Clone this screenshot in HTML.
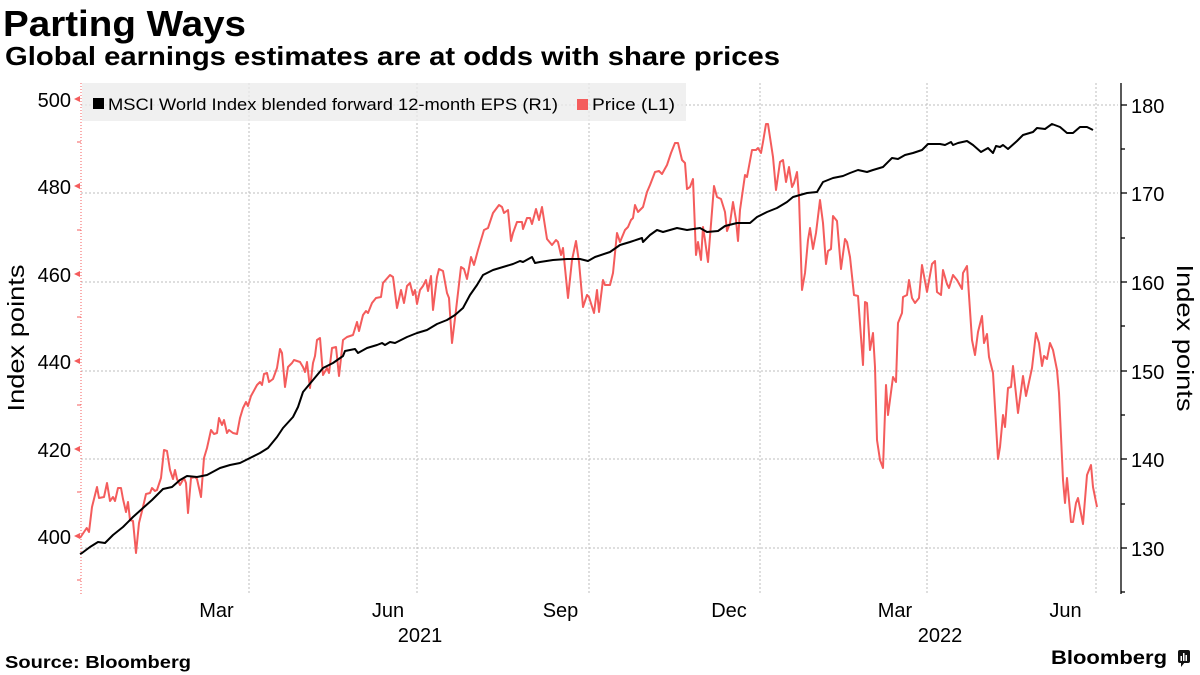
<!DOCTYPE html>
<html><head><meta charset="utf-8"><style>
html,body{margin:0;padding:0;background:#fff;}
svg{display:block;font-family:"Liberation Sans",sans-serif;}
</style></head><body>
<svg width="1200" height="675" viewBox="0 0 1200 675" xmlns="http://www.w3.org/2000/svg">
<rect width="1200" height="675" fill="#fff"/>
<text x="3" y="36" font-size="36" font-weight="bold" textLength="243" lengthAdjust="spacingAndGlyphs">Parting Ways</text>
<text x="5" y="65" font-size="26" font-weight="bold" textLength="775" lengthAdjust="spacingAndGlyphs">Global earnings estimates are at odds with share prices</text>

<rect x="82" y="83" width="604" height="38" fill="#f0f0f0"/>
<g stroke="#bdbdbd" stroke-width="1" stroke-dasharray="2,2" fill="none">
<line x1="81" y1="105" x2="1118" y2="105"/>
<line x1="81" y1="193" x2="1118" y2="193"/>
<line x1="81" y1="282" x2="1118" y2="282"/>
<line x1="81" y1="371" x2="1118" y2="371"/>
<line x1="81" y1="459" x2="1118" y2="459"/>
<line x1="81" y1="548" x2="1118" y2="548"/>
<line x1="249" y1="83" x2="249" y2="593"/>
<line x1="417" y1="83" x2="417" y2="593"/>
<line x1="589" y1="83" x2="589" y2="593"/>
<line x1="760" y1="83" x2="760" y2="593"/>
<line x1="927" y1="83" x2="927" y2="593"/>
<line x1="1096" y1="83" x2="1096" y2="593"/>
</g>
<rect x="82" y="83" width="604" height="38" fill="#f0f0f0" opacity="0.7"/>

<rect x="93" y="98" width="11" height="11" fill="#000"/>
<text x="108" y="110" font-size="17" textLength="450" lengthAdjust="spacingAndGlyphs">MSCI World Index blended forward 12-month EPS (R1)</text>
<rect x="577" y="99" width="11" height="11" fill="#f45c5c"/>
<text x="592" y="110" font-size="17" textLength="83" lengthAdjust="spacingAndGlyphs">Price (L1)</text>

<!-- left axis -->
<line x1="81" y1="83" x2="81" y2="595" stroke="#f45c5c" stroke-width="1" stroke-dasharray="1,2"/>
<g fill="#f45c5c">
<polygon points="74,99 80,96 80,102"/>
<polygon points="74,186 80,183 80,189"/>
<polygon points="74,274 80,271 80,277"/>
<polygon points="74,361 80,358 80,364"/>
<polygon points="74,449 80,446 80,452"/>
<polygon points="74,536 80,533 80,539"/>
</g>
<g stroke="#f45c5c" stroke-width="1">
<line x1="77" y1="142" x2="81" y2="142"/>
<line x1="77" y1="230" x2="81" y2="230"/>
<line x1="77" y1="317" x2="81" y2="317"/>
<line x1="77" y1="405" x2="81" y2="405"/>
<line x1="77" y1="492" x2="81" y2="492"/>
<line x1="77" y1="580" x2="81" y2="580"/>
</g>
<g font-size="20" text-anchor="end" fill="#000">
<text x="71" y="107">500</text>
<text x="71" y="194">480</text>
<text x="71" y="282">460</text>
<text x="71" y="369">440</text>
<text x="71" y="457">420</text>
<text x="71" y="544">400</text>
</g>
<text transform="translate(24,338) rotate(-90)" font-size="23" text-anchor="middle" textLength="147" lengthAdjust="spacingAndGlyphs">Index points</text>

<!-- right axis -->
<line x1="1121" y1="83" x2="1121" y2="594" stroke="#000" stroke-width="1.3"/>
<g stroke="#000" stroke-width="1.3">
<line x1="1121" y1="105" x2="1127" y2="105"/>
<line x1="1121" y1="193" x2="1127" y2="193"/>
<line x1="1121" y1="282" x2="1127" y2="282"/>
<line x1="1121" y1="371" x2="1127" y2="371"/>
<line x1="1121" y1="459" x2="1127" y2="459"/>
<line x1="1121" y1="548" x2="1127" y2="548"/>
<line x1="1121" y1="149" x2="1125" y2="149"/>
<line x1="1121" y1="238" x2="1125" y2="238"/>
<line x1="1121" y1="326" x2="1125" y2="326"/>
<line x1="1121" y1="415" x2="1125" y2="415"/>
<line x1="1121" y1="504" x2="1125" y2="504"/>
<line x1="1121" y1="592" x2="1125" y2="592"/>
</g>
<g font-size="20" fill="#000">
<text x="1131" y="113">180</text>
<text x="1131" y="201">170</text>
<text x="1131" y="290">160</text>
<text x="1131" y="379">150</text>
<text x="1131" y="467">140</text>
<text x="1131" y="556">130</text>
</g>
<text transform="translate(1177,338) rotate(90)" font-size="23" text-anchor="middle" textLength="147" lengthAdjust="spacingAndGlyphs">Index points</text>

<!-- x labels -->
<g font-size="20" text-anchor="middle" fill="#000">
<text x="216.5" y="617">Mar</text>
<text x="388" y="617">Jun</text>
<text x="560.5" y="617">Sep</text>
<text x="729" y="617">Dec</text>
<text x="895" y="617">Mar</text>
<text x="1065.5" y="617">Jun</text>
<text x="420" y="642">2021</text>
<text x="940" y="642">2022</text>
</g>

<!-- price (red) -->
<polyline fill="none" stroke="#f45c5c" stroke-width="2" stroke-linejoin="round" points="
80,538 86.7,528 89,532 92,507 97,487 99,498 104,497 107,483 110,501 113,497 115,501 118,488 121,488 123,499 126,512 128,502 130,520 133,521 136,553 139,523 143,507 146,494 150,493 152,488 155,491 157,490 161,478 164,450 167,451 170,470 173,479 175,470 177,479 180,485 184,478 186,483 188,513 191,478 195,477 197,479 201,497 204,458 207,448 211,430 214,434 217,433 219,418 222,425 224,420 227,433 229,430 233,433 237,434 240,418 243,408 246,402 248,406 251,396 257,385 260,382 262,385 264,374 267,373 269,382 273,379 277,368 280,349 282,353 285,387 288,367 292,363 294,360 300,362 303,367 305,372 307,362 310,388 313,363 315,356 317,340 320,338 323,375 327,368 329,373 332,348 336,347 339,376
343,340 347,337 353,335 357,322 359,331 363,315 366,311 368,313 372,303 376,298 381,297 383,283 390,275 393,277 397,308 401,290 404,303 407,286 410,283 413,295 415,290 417,304 420,290 423,286 426,280 428,291 431,276 433,310 437,277 439,269 443,271 447,293 449,298 452,343 456,310 461,267 464,269 467,279 471,257 474,265 478,250 484,230 488,228 493,213 499,205 502,207 504,213 508,210 511,241 513,233 517,222 522,222 523,229 527,218 530,218 532,224 536,209 539,220 542,207 547,239 552,245 556,240 558,242 561,255 563,248 568,298 572,260 576,241 579,262 583,307 587,295 589,297 594,313 597,290 599,312
603,280 605,285 610,285 613,273 617,233 620,242 625,230 628,227 631,220 633,218 635,205 638,212 643,207 647,192 650,185 655,172 659,171 662,174 667,165 671,153 675,143 678,143 682,160 685,163 687,189 690,187 693,179 696,255 698,242 701,260 703,227 705,240 708,262 714,186 717,197 721,199 725,212 727,231 730,223 733,202 736,220 738,241 740,210 745,175 747,177 752,150 756,150 758,148 761,153 763,142 766,124 768,124 773,157 776,190 780,162 783,160 786,182 789,167 792,187 794,183 797,172 799,197 802,290 805,273 808,240 810,228 813,249 816,233 820,200 823,223 826,264 828,251 831,249 833,216 837,221 841,269 845,239 847,242 850,257 854,295 858,296
863,365 865,302 867,303 870,350 873,333 875,367 877,440 880,460 883,468 886,385 888,415 893,377 896,382 898,323 902,313 903,297 907,295 909,280 912,298 915,303 919,298 922,265 927,292 932,264 935,261 937,292 941,295 943,270 947,284 949,288 953,275 957,280 962,289 963,273 967,266 972,340 975,355 978,332 982,316 984,343 987,334 989,357 993,373 998,459 1000,447 1003,415 1005,427 1008,388 1011,387 1013,366 1018,413 1023,376 1026,396 1032,368 1036,333 1039,343 1042,366 1044,356 1047,359 1050,343 1053,350 1057,370 1059,393 1063,480 1065,503 1067,478 1071,522 1073,522 1076,503 1078,498 1083,524 1087,475 1091,465 1093,487 1097,507"/>

<!-- EPS (black) -->
<polyline fill="none" stroke="#000" stroke-width="2" stroke-linejoin="round" points="
80,554 82,553 90,547 98,542 105,543 113,535 123,527 133,517 143,508 152,500 163,489 172,487 180,480 187,476 197,477 207,475 220,468 230,465 240,463 250,458 260,453 268,448 277,437 283,428 293,417 298,407 303,392 313,380 323,368 333,363 343,356
345,351 355,349 358,353 367,348 377,345 382,343 385,345 390,342 395,343 407,337 417,333 427,330 437,324 447,320 455,315 463,308 470,295 477,285 483,275 493,270 503,267 513,264 520,261 523,262 532,257 535,263 540,262 553,260 567,259 580,259 588,261 595,257
610,252 620,245 630,242 642,238 643,242 650,235 657,230 663,232 677,228 687,230 700,228 707,232 718,231 725,226 737,223 750,223 757,217 767,212 777,208 787,202 793,197 807,193 817,192 823,182 833,178 843,176 850,173 858,170 867,172 873,170
883,167 892,158 898,159 905,155 913,153 922,150 928,144 940,144 945,145 951,142 953,145 958,143 967,141 973,145 981,152 988,148 993,153 996,146 1000,147 1003,145 1008,149 1017,141 1023,135 1033,132 1037,128 1045,129 1052,124 1060,127 1067,133 1073,133 1080,127 1087,127 1093,130"/>

<!-- footer -->
<text x="5" y="668" font-size="17.5" font-weight="bold" textLength="186" lengthAdjust="spacingAndGlyphs">Source: Bloomberg</text>
<text x="1051" y="664" font-size="19" font-weight="bold" textLength="116" lengthAdjust="spacingAndGlyphs">Bloomberg</text>
<rect x="1178" y="650" width="12" height="13" rx="2" fill="#111"/>
<polygon points="1181,662 1185,662 1181,667" fill="#111"/>
<g fill="#fff">
<rect x="1180.5" y="656" width="1.5" height="5"/>
<rect x="1183" y="653" width="1.5" height="8"/>
<rect x="1185.5" y="655" width="1.5" height="6"/>
</g>
</svg>
</body></html>
